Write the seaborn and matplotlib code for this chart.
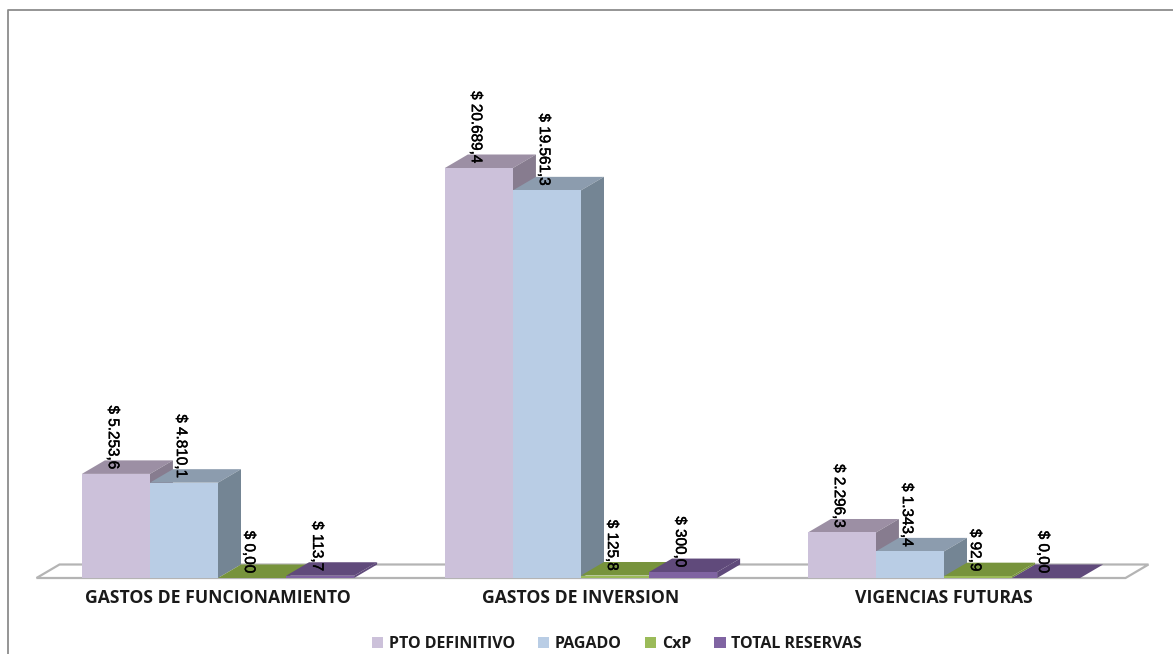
import matplotlib
matplotlib.use("Agg")
import matplotlib.pyplot as plt
import matplotlib.patheffects as pe
import seaborn as sns
import pandas as pd
from matplotlib.lines import Line2D

categorias = ["GASTOS DE FUNCIONAMIENTO", "GASTOS DE INVERSION", "VIGENCIAS FUTURAS"]
series = ["PTO DEFINITIVO", "PAGADO", "CxP", "TOTAL RESERVAS"]

pto_definitivo = [5253.6, 20689.4, 2296.3]
pagado = [4810.1, 19561.3, 1343.4]
cxp = [0.0, 125.8, 92.9]
total_reservas = [113.7, 300.0, 0.0]

etiquetas_pto = ["$ 5.253,6", "$ 20.689,4", "$ 2.296,3"]
etiquetas_pagado = ["$ 4.810,1", "$ 19.561,3", "$ 1.343,4"]
etiquetas_cxp = ["$ 0,00", "$ 125,8", "$ 92,9"]
etiquetas_reservas = ["$ 113,7", "$ 300,0", "$ 0,00"]

frente = ["#CCC1DA", "#B9CDE5", "#9BBB59", "#8064A2"]
arriba = ["#9C8FA4", "#8C9CAE", "#77933C", "#604A7B"]
lado = ["#877C8F", "#748594", "#667F33", "#52406B"]

df = pd.DataFrame({
    "categoria": categorias * 4,
    "serie": [s for s in series for _ in categorias],
    "valor": pto_definitivo + pagado + cxp + total_reservas,
})

W, H = 1173, 654
sns.set_theme(style="white")
fig = plt.figure(figsize=(W / 100, H / 100), dpi=100)
ax = fig.add_axes([36.5 / W, 76 / H, 1089 / W, 568 / H])

sns.barplot(data=df, x="categoria", y="valor", hue="serie", hue_order=series,
            order=categorias, palette=frente, saturation=1, width=0.75, gap=0,
            linewidth=0, ax=ax)

ax.set_xlim(-0.5, 2.5)
ax.set_ylim(0, 28662)
# profundidad del efecto 3D, en pixeles pasados a unidades de datos
dx = 23 * 3 / 1089
dy = 13.5 * 28662 / 568

# piso
x0, x1 = ax.get_xlim()
ax.fill([x0, x1, x1 + dx, x0 + dx], [0, 0, dy, dy], facecolor="white",
        edgecolor="#B4B4B4", linewidth=1.6, clip_on=False, zorder=1)

etiquetas = [etiquetas_pto, etiquetas_pagado, etiquetas_cxp, etiquetas_reservas]
for k, barras in enumerate(ax.containers):
    for b in barras:
        xa = b.get_x()
        xb = xa + b.get_width()
        h = b.get_height()
        b.set_zorder(3 + 2 * k + 1)
        ax.fill([xa, xb, xb + dx, xa + dx], [h, h, h + dy, h + dy],
                facecolor=arriba[k], linewidth=0, clip_on=False, zorder=3 + 2 * k)
        ax.fill([xb, xb + dx, xb + dx, xb], [0, dy, h + dy, h],
                facecolor=lado[k] if h > 1000 else arriba[k], linewidth=0,
                clip_on=False, zorder=3 + 2 * k)
    textos = ax.bar_label(barras, labels=etiquetas[k], rotation=270, padding=3.5,
                          fontsize=11, family="Liberation Sans", color="black", zorder=20)
    for t in textos:
        t.xyann = (-2.2, t.xyann[1])
        t.set_path_effects([pe.withStroke(linewidth=0.3, foreground="black")])

sns.despine(ax=ax, left=True, bottom=True, top=True, right=True)
ax.set_xlabel("")
ax.set_ylabel("")
ax.set_yticks([])
ax.tick_params(axis="x", length=0, pad=8)
for t in ax.get_xticklabels():
    t.set_fontsize(12.7)
    t.set_fontweight("bold")
    t.set_family("Open Sans")
    t.set_color("#1A1A1A")

ley = ax.legend(loc="center", bbox_to_anchor=(617 / W, 10 / H),
                bbox_transform=fig.transFigure, ncol=4, frameon=False,
                handlelength=0.7, handleheight=0.7, handletextpad=0.35,
                columnspacing=1.45, borderpad=0,
                prop={"family": "Open Sans", "weight": "bold", "size": 11.5})
for t in ley.get_texts():
    t.set_color("#1A1A1A")

# marco exterior
gris = "#8C8C8C"
fig.add_artist(Line2D([8 / W, 8 / W, 1], [0, 1 - 10 / H, 1 - 10 / H],
                      color=gris, linewidth=1.3))

fig.savefig("out.png", dpi=100, facecolor="white")
